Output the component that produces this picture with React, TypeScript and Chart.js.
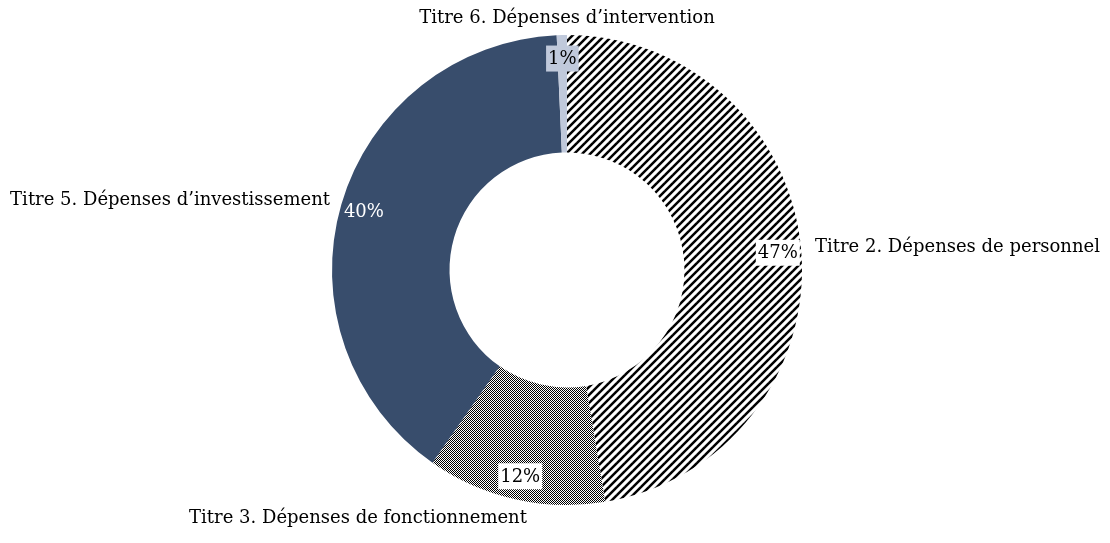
import React, { useEffect, useRef } from "react";
import { Chart, registerables } from "chart.js";

Chart.register(...registerables);

const categories = [
  "Titre 2. Dépenses de personnel",
  "Titre 3. Dépenses de fonctionnement",
  "Titre 5. Dépenses d\u2019investissement",
  "Titre 6. Dépenses d\u2019intervention",
];
const shares = [47.4, 12.3, 39.6, 0.7];
const shareLabels = ["47%", "12%", "40%", "1%"];

const NAVY = "#384d6c";
const LIGHT = "#c0c9db";
const FONT = "'DejaVu Serif', 'Liberation Serif', serif";

function makeHatch(): CanvasPattern | string {
  const p = 8;
  const c = document.createElement("canvas");
  c.width = p;
  c.height = p;
  const ctx = c.getContext("2d");
  if (!ctx) return "#000";
  ctx.fillStyle = "#fff";
  ctx.fillRect(0, 0, p, p);
  ctx.strokeStyle = "#000";
  ctx.lineWidth = 2.5;
  for (let k = -1; k <= 1; k++) {
    ctx.beginPath();
    ctx.moveTo(-p + k * p, 2 * p);
    ctx.lineTo(2 * p + k * p, -p);
    ctx.stroke();
  }
  return ctx.createPattern(c, "repeat") || "#000";
}

function makeChecker(): CanvasPattern | string {
  const c = document.createElement("canvas");
  c.width = 2;
  c.height = 2;
  const ctx = c.getContext("2d");
  if (!ctx) return "#888";
  ctx.fillStyle = "#fff";
  ctx.fillRect(0, 0, 2, 2);
  ctx.fillStyle = "#000";
  ctx.fillRect(0, 0, 1, 1);
  ctx.fillRect(1, 1, 1, 1);
  return ctx.createPattern(c, "repeat") || "#888";
}

// label styling per slice: background box colour (null = none), text colour
const labelBoxes: (string | null)[] = ["#ffffff", "#ffffff", null, LIGHT];
const labelText = ["#000", "#000", "#fff", "#000"];
// category label placement relative to centre: dx, dy, align
const catPlace: [number, number, CanvasTextAlign][] = [
  [248, -23, "left"],
  [-209, 248, "center"],
  [-237, -70, "right"],
  [0, -252, "center"],
];

const labelPlugin = {
  id: "sliceLabels",
  afterDatasetsDraw(chart: any) {
    const ctx = chart.ctx as CanvasRenderingContext2D;
    const meta = chart.getDatasetMeta(0);
    ctx.save();
    ctx.textBaseline = "middle";
    meta.data.forEach((arc: any, i: number) => {
      const { x, y, startAngle, endAngle, outerRadius } = arc.getProps(
        ["x", "y", "startAngle", "endAngle", "outerRadius"],
        true
      );
      const mid = (startAngle + endAngle) / 2;
      const r = outerRadius * 0.9;
      const lx = x + Math.cos(mid) * r;
      const ly = y + Math.sin(mid) * r;
      ctx.font = `18px ${FONT}`;
      ctx.textAlign = "center";
      const t = shareLabels[i];
      const w = ctx.measureText(t).width;
      if (labelBoxes[i]) {
        ctx.fillStyle = labelBoxes[i] as string;
        ctx.fillRect(lx - w / 2 - 2, ly - 13, w + 4, 26);
      }
      ctx.fillStyle = labelText[i];
      ctx.fillText(t, lx, ly + 1);

      const [dx, dy, al] = catPlace[i];
      ctx.font = `18px ${FONT}`;
      ctx.textAlign = al;
      ctx.fillStyle = "#000";
      ctx.fillText(categories[i], x + dx, y + dy);
    });
    ctx.restore();
  },
};

export default function App() {
  const ref = useRef<HTMLCanvasElement>(null);
  useEffect(() => {
    document.body.style.margin = "0";
    if (!ref.current) return;
    const chart = new Chart(ref.current, {
      type: "doughnut",
      data: {
        labels: categories,
        datasets: [
          {
            data: shares,
            backgroundColor: [makeHatch(), makeChecker(), NAVY, LIGHT],
            borderWidth: 0,
          },
        ],
      },
      options: {
        animation: false,
        responsive: false,
        cutout: "50%",
        layout: { padding: { top: 35, bottom: 38, left: 332, right: 308 } },
        plugins: {
          legend: { display: false },
          tooltip: { enabled: false },
        },
      },
      plugins: [labelPlugin],
    });
    return () => chart.destroy();
  }, []);
  return (
    <div style={{ width: 1110, height: 543, background: "#fff" }}>
      <canvas ref={ref} width={1110} height={543} />
    </div>
  );
}
